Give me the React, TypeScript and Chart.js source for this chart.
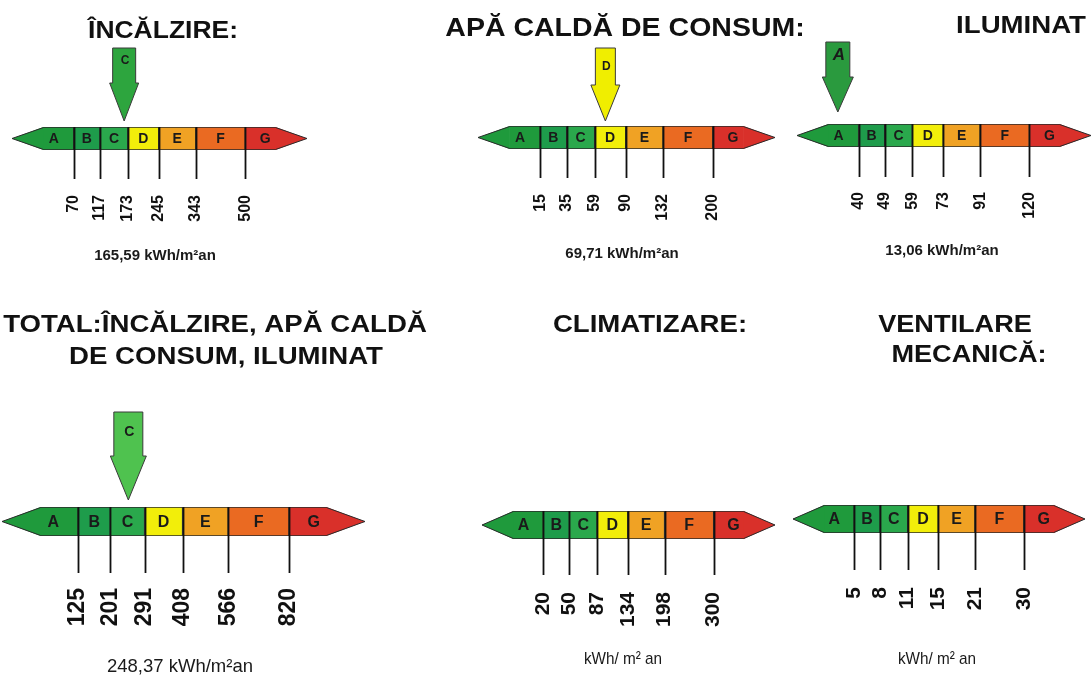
import React, { useEffect, useRef } from 'react';
import { Chart, registerables } from 'chart.js';

Chart.register(...registerables);

// ---------------- DATA ----------------
const CLASSES = ['A', 'B', 'C', 'D', 'E', 'F', 'G'];

const HEATING_TITLE = ['ÎNCĂLZIRE:'];
const HEATING_LIMITS = [70, 117, 173, 245, 343, 500];
const HEATING_VALUE = 165.59;

const HOT_WATER_TITLE = ['APĂ CALDĂ DE CONSUM:'];
const HOT_WATER_LIMITS = [15, 35, 59, 90, 132, 200];
const HOT_WATER_VALUE = 69.71;

const LIGHTING_TITLE = ['ILUMINAT'];
const LIGHTING_LIMITS = [40, 49, 59, 73, 91, 120];
const LIGHTING_VALUE = 13.06;

const TOTAL_TITLE = ['TOTAL:ÎNCĂLZIRE, APĂ CALDĂ', 'DE CONSUM, ILUMINAT'];
const TOTAL_LIMITS = [125, 201, 291, 408, 566, 820];
const TOTAL_VALUE = 248.37;

const COOLING_TITLE = ['CLIMATIZARE:'];
const COOLING_LIMITS = [20, 50, 87, 134, 198, 300];

const VENTILATION_TITLE = ['VENTILARE', 'MECANICĂ:'];
const VENTILATION_LIMITS = [5, 8, 11, 15, 21, 30];

const UNIT_WITH_VALUE = 'kWh/m²an';
const UNIT_WITHOUT_VALUE = 'kWh/ m² an';

// ---------------- STYLE ----------------
const W = 1091;
const H = 675;
const FONT = '"Liberation Sans", Arial, Helvetica, sans-serif';
const CLASS_COLORS = ['#1f9a3c', '#1e9c4b', '#2aa84c', '#f2ee0a', '#f0a224', '#ea6a22', '#d9302a'];
const OUTLINE = '#2a2a2a';
const TIP = 1; // arrow-tip length of the band, in band units
const RECT_W = [1, 0.85, 0.9, 1, 1.2, 1.6, 1]; // rectangular part of each class band
const RECT_START: number[] = [];
RECT_W.forEach((w, i) => RECT_START.push(i === 0 ? TIP : RECT_START[i - 1] + RECT_W[i - 1]));
const BAND_END = RECT_START[6] + RECT_W[6] + TIP;

interface ArrowStyle {
  shaftW: number; headW: number; top: number; shaftBottom: number; tipY: number;
  color: string; letterY: number; letterSize: number; italic: boolean;
}
interface Layout {
  bar: { l: number; r: number; t: number; b: number };
  tickBottom: number; labelTop: number; labelSize: number; letterSize: number;
  titlePos: [number, number][]; titleSize: number; titleScale: number;
  valuePos: [number, number]; valueFont: string; valueScale: number;
  arrow?: ArrowStyle;
}
interface PanelDef { title: string[]; limits: number[]; value: number | null; layout: Layout }

const PANELS: PanelDef[] = [
  {
    title: HEATING_TITLE, limits: HEATING_LIMITS, value: HEATING_VALUE,
    layout: {
      bar: { l: 12, r: 307, t: 127, b: 150 }, tickBottom: 179, labelTop: 195, labelSize: 16, letterSize: 14,
      titlePos: [[163, 38]], titleSize: 23, titleScale: 1.15,
      valuePos: [155, 256], valueFont: `bold 15px ${FONT}`, valueScale: 1,
      arrow: { shaftW: 23, headW: 29, top: 48, shaftBottom: 83, tipY: 121, color: '#2da53e', letterY: 61, letterSize: 12, italic: false },
    },
  },
  {
    title: HOT_WATER_TITLE, limits: HOT_WATER_LIMITS, value: HOT_WATER_VALUE,
    layout: {
      bar: { l: 478, r: 775, t: 126, b: 149 }, tickBottom: 178, labelTop: 194, labelSize: 16, letterSize: 14,
      titlePos: [[625, 36]], titleSize: 25, titleScale: 1.14,
      valuePos: [622, 254], valueFont: `bold 15px ${FONT}`, valueScale: 1,
      arrow: { shaftW: 20, headW: 29, top: 48, shaftBottom: 85, tipY: 121, color: '#f0ee00', letterY: 67, letterSize: 12, italic: false },
    },
  },
  {
    title: LIGHTING_TITLE, limits: LIGHTING_LIMITS, value: LIGHTING_VALUE,
    layout: {
      bar: { l: 797, r: 1091, t: 124, b: 147 }, tickBottom: 177, labelTop: 192, labelSize: 16, letterSize: 14,
      titlePos: [[1021, 33]], titleSize: 24, titleScale: 1.15,
      valuePos: [942, 251], valueFont: `bold 15px ${FONT}`, valueScale: 1,
      arrow: { shaftW: 24, headW: 31, top: 42, shaftBottom: 77, tipY: 112, color: '#2a9a3e', letterY: 55, letterSize: 17, italic: true },
    },
  },
  {
    title: TOTAL_TITLE, limits: TOTAL_LIMITS, value: TOTAL_VALUE,
    layout: {
      bar: { l: 2, r: 365, t: 507, b: 536 }, tickBottom: 573, labelTop: 588, labelSize: 23, letterSize: 16,
      titlePos: [[215, 332], [226, 364]], titleSize: 24, titleScale: 1.15,
      valuePos: [180, 667], valueFont: `18.5px ${FONT}`, valueScale: 1,
      arrow: { shaftW: 29, headW: 36, top: 412, shaftBottom: 456, tipY: 500, color: '#4fc24f', letterY: 432, letterSize: 14, italic: false },
    },
  },
  {
    title: COOLING_TITLE, limits: COOLING_LIMITS, value: null,
    layout: {
      bar: { l: 482, r: 775, t: 511, b: 539 }, tickBottom: 575, labelTop: 592, labelSize: 21, letterSize: 16,
      titlePos: [[650, 332]], titleSize: 24, titleScale: 1.15,
      valuePos: [623, 659], valueFont: `17px ${FONT}`, valueScale: 0.9,
    },
  },
  {
    title: VENTILATION_TITLE, limits: VENTILATION_LIMITS, value: null,
    layout: {
      bar: { l: 793, r: 1085, t: 505, b: 533 }, tickBottom: 570, labelTop: 587, labelSize: 21, letterSize: 16,
      titlePos: [[955, 332], [969, 362]], titleSize: 24, titleScale: 1.13,
      valuePos: [937, 659], valueFont: `17px ${FONT}`, valueScale: 0.9,
    },
  },
];

function drawScaledText(ctx: CanvasRenderingContext2D, text: string, x: number, y: number, sx: number) {
  ctx.save();
  ctx.translate(x, y);
  ctx.scale(sx, 1);
  ctx.fillText(text, 0, 0);
  ctx.restore();
}

function makePlugin(panel: PanelDef) {
  return {
    id: 'energyScale',
    afterDatasetsDraw(chart: any) {
      const ctx: CanvasRenderingContext2D = chart.ctx;
      const xs = chart.scales.x;
      const { top, bottom } = chart.chartArea;
      const mid = (top + bottom) / 2;
      const px = (u: number) => xs.getPixelForValue(u);
      const L = panel.layout;
      ctx.save();

      // arrow tips of the band (A on the left, G on the right)
      const aBase = px(TIP) + 0.6;
      const gBase = px(RECT_START[6] + RECT_W[6]) - 0.6;
      ctx.lineWidth = 1;
      ctx.strokeStyle = OUTLINE;
      ctx.fillStyle = CLASS_COLORS[0];
      ctx.beginPath(); ctx.moveTo(aBase, top); ctx.lineTo(px(0), mid); ctx.lineTo(aBase, bottom); ctx.closePath(); ctx.fill();
      ctx.beginPath(); ctx.moveTo(aBase, top + 0.5); ctx.lineTo(px(0), mid); ctx.lineTo(aBase, bottom - 0.5); ctx.stroke();
      ctx.fillStyle = CLASS_COLORS[6];
      ctx.beginPath(); ctx.moveTo(gBase, top); ctx.lineTo(px(BAND_END), mid); ctx.lineTo(gBase, bottom); ctx.closePath(); ctx.fill();
      ctx.beginPath(); ctx.moveTo(gBase, top + 0.5); ctx.lineTo(px(BAND_END), mid); ctx.lineTo(gBase, bottom - 0.5); ctx.stroke();

      // class boundaries / tick lines
      ctx.strokeStyle = '#111';
      ctx.lineWidth = 1.8;
      for (let i = 1; i < CLASSES.length; i++) {
        const x = Math.round(px(RECT_START[i])) + 0.5;
        ctx.beginPath(); ctx.moveTo(x, top); ctx.lineTo(x, L.tickBottom); ctx.stroke();
      }

      // class letters
      ctx.fillStyle = '#1a1a1a';
      ctx.font = `bold ${L.letterSize}px ${FONT}`;
      ctx.textAlign = 'center';
      ctx.textBaseline = 'middle';
      CLASSES.forEach((c, i) => {
        let u = RECT_START[i] + RECT_W[i] / 2;
        if (i === 0) u -= 0.15;
        if (i === 6) u += 0.15;
        ctx.fillText(c, px(u), mid + 1);
      });

      // threshold labels (rotated)
      ctx.fillStyle = '#111';
      ctx.font = `bold ${L.labelSize}px ${FONT}`;
      ctx.textAlign = 'right';
      ctx.textBaseline = 'middle';
      panel.limits.forEach((v, i) => {
        ctx.save();
        ctx.translate(px(RECT_START[i + 1]), L.labelTop);
        ctx.rotate(-Math.PI / 2);
        ctx.fillText(String(v), 0, 0);
        ctx.restore();
      });

      // titles
      ctx.fillStyle = '#111';
      ctx.font = `bold ${L.titleSize}px ${FONT}`;
      ctx.textAlign = 'center';
      ctx.textBaseline = 'alphabetic';
      panel.title.forEach((t, i) => {
        const [tx, ty] = L.titlePos[i];
        drawScaledText(ctx, t, tx, ty, L.titleScale);
      });

      // value / unit text
      const valueText = panel.value === null
        ? UNIT_WITHOUT_VALUE
        : `${panel.value.toFixed(2).replace('.', ',')} ${UNIT_WITH_VALUE}`;
      ctx.font = L.valueFont;
      ctx.fillStyle = '#1a1a1a';
      ctx.textBaseline = 'middle';
      drawScaledText(ctx, valueText, L.valuePos[0], L.valuePos[1], L.valueScale);

      // grade arrow
      if (panel.value !== null && L.arrow) {
        const v = panel.value;
        let gi = panel.limits.findIndex((t) => v < t);
        if (gi < 0) gi = 6;
        const lo = gi === 0 ? 0 : panel.limits[gi - 1];
        const hi = gi < 6 ? panel.limits[gi] : lo * 1.5;
        const frac = Math.min(1, Math.max(0, (v - lo) / (hi - lo)));
        const cx = px(RECT_START[gi] + frac * RECT_W[gi]);
        const a = L.arrow;
        ctx.beginPath();
        ctx.moveTo(cx - a.shaftW / 2, a.top);
        ctx.lineTo(cx + a.shaftW / 2, a.top);
        ctx.lineTo(cx + a.shaftW / 2, a.shaftBottom);
        ctx.lineTo(cx + a.headW / 2, a.shaftBottom);
        ctx.lineTo(cx, a.tipY);
        ctx.lineTo(cx - a.headW / 2, a.shaftBottom);
        ctx.lineTo(cx - a.shaftW / 2, a.shaftBottom);
        ctx.closePath();
        ctx.fillStyle = a.color;
        ctx.fill();
        ctx.lineWidth = 1;
        ctx.strokeStyle = '#3a3a3a';
        ctx.stroke();
        ctx.fillStyle = '#1a1a1a';
        ctx.font = `${a.italic ? 'italic ' : ''}bold ${a.letterSize}px ${FONT}`;
        ctx.textAlign = 'center';
        ctx.textBaseline = 'middle';
        ctx.fillText(CLASSES[gi], cx + 1, a.letterY);
      }
      ctx.restore();
    },
  };
}

function Panel({ panel }: { panel: PanelDef }) {
  const ref = useRef<HTMLCanvasElement | null>(null);
  useEffect(() => {
    if (!ref.current) return;
    const L = panel.layout;
    const chart = new Chart(ref.current, {
      type: 'bar',
      data: {
        labels: ['clasa'],
        datasets: CLASSES.map((c, i) => ({
          label: c,
          data: [[RECT_START[i], RECT_START[i] + RECT_W[i]]] as any,
          backgroundColor: CLASS_COLORS[i],
          borderColor: OUTLINE,
          borderWidth: 1,
          borderSkipped: (i === 0 ? 'left' : i === 6 ? 'right' : false) as any,
          grouped: false,
          barPercentage: 1,
          categoryPercentage: 1,
        })),
      },
      options: {
        indexAxis: 'y',
        responsive: false,
        maintainAspectRatio: false,
        animation: false,
        layout: { padding: { left: L.bar.l, right: W - L.bar.r, top: L.bar.t, bottom: H - L.bar.b } },
        scales: {
          x: { type: 'linear', min: 0, max: BAND_END, display: false },
          y: { type: 'category', display: false },
        },
        plugins: { legend: { display: false }, tooltip: { enabled: false }, title: { display: false } },
      },
      plugins: [makePlugin(panel)],
    } as any);
    return () => chart.destroy();
  }, [panel]);
  return (
    <canvas
      ref={ref}
      width={W}
      height={H}
      style={{ position: 'absolute', left: 0, top: 0, width: W, height: H }}
    />
  );
}

export default function App() {
  return (
    <div style={{ position: 'absolute', left: 0, top: 0, width: W, height: H, overflow: 'hidden', background: '#fff' }}>
      {PANELS.map((p, i) => (
        <Panel key={i} panel={p} />
      ))}
    </div>
  );
}
